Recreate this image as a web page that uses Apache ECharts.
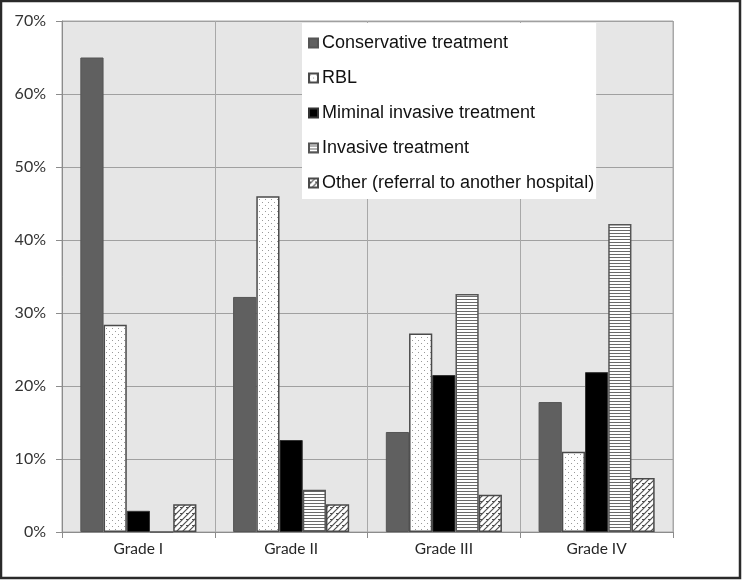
<!DOCTYPE html>
<html>
<head>
<meta charset="utf-8">
<script src="https://cdn.jsdelivr.net/npm/echarts@6/dist/echarts.min.js"></script>
<style>
html,body{margin:0;padding:0;background:#fff;}
#c{width:742px;height:581px;}
</style>
</head>
<body>
<div id="c"></div>
<script>
var categories = ['Grade I', 'Grade II', 'Grade III', 'Grade IV'];
var seriesNames = ['Conservative treatment', 'RBL', 'Miminal invasive treatment', 'Invasive treatment', 'Other (referral to another hospital)'];
var conservative = [65.0, 32.2, 13.7, 17.8];
var rbl = [28.4, 46.0, 27.2, 11.0];
var minimal = [2.9, 12.6, 21.5, 21.9];
var invasive = [0, 5.8, 32.6, 42.2];
var other = [3.8, 3.8, 5.1, 7.4];
var yTicks = [0, 10, 20, 30, 40, 50, 60, 70];

function makeCanvas(w, h, draw) {
  var c = document.createElement('canvas');
  c.width = w; c.height = h;
  var ctx = c.getContext('2d');
  draw(ctx, w, h);
  return c;
}
var dots = makeCanvas(6, 6, function (ctx, w, h) {
  ctx.fillStyle = '#ffffff'; ctx.fillRect(0, 0, w, h);
  ctx.fillStyle = '#9a9a9a';
  ctx.fillRect(1, 1, 1, 1);
  ctx.fillRect(4, 4, 1, 1);
});
var stripes = makeCanvas(4, 3, function (ctx, w, h) {
  ctx.fillStyle = '#ffffff'; ctx.fillRect(0, 0, w, h);
  ctx.fillStyle = '#6a6a6a';
  ctx.fillRect(0, 2, w, 1);
});
var hatch = makeCanvas(6, 6, function (ctx, w, h) {
  ctx.fillStyle = '#ffffff'; ctx.fillRect(0, 0, w, h);
  ctx.strokeStyle = '#505050'; ctx.lineWidth = 1.2;
  ctx.beginPath();
  ctx.moveTo(-1, 7); ctx.lineTo(7, -1);
  ctx.moveTo(-4, 4); ctx.lineTo(4, -4);
  ctx.moveTo(2, 10); ctx.lineTo(10, 2);
  ctx.stroke();
  ctx.fillStyle = '#505050';
  ctx.fillRect(0, 3, 2, 1);
});

var styles = [
  {color: '#606060', borderColor: '#555555', borderWidth: 1},
  {color: {image: dots, repeat: 'repeat'}, borderColor: '#4a4a4a', borderWidth: 1.5},
  {color: '#000000', borderColor: '#333333', borderWidth: 1},
  {color: {image: stripes, repeat: 'repeat'}, borderColor: '#555555', borderWidth: 1.5},
  {color: {image: hatch, repeat: 'repeat'}, borderColor: '#4a4a4a', borderWidth: 1.5}
];
var dataArr = [conservative, rbl, minimal, invasive, other];

var series = seriesNames.map(function (n, i) {
  return {
    name: n,
    type: 'bar',
    data: dataArr[i],
    barGap: '0%',
    barCategoryGap: '24%',
    itemStyle: styles[i],
    emphasis: {disabled: true},
    animation: false
  };
});

var chart = echarts.init(document.getElementById('c'));
chart.setOption({
  animation: false,
  backgroundColor: '#ffffff',
  graphic: [{
    type: 'rect',
    shape: {x: 1, y: 1, width: 739, height: 577},
    style: {fill: 'none', stroke: '#2a2a2a', lineWidth: 2.5},
    silent: true
  }],
  grid: {
    left: 62, right: 69, top: 21, bottom: 49,
    show: true, backgroundColor: '#e6e6e6', borderColor: '#a8a8a8', borderWidth: 1
  },
  legend: {
    data: seriesNames,
    orient: 'vertical',
    left: 302, top: 23,
    backgroundColor: '#ffffff',
    padding: [10, 2, 6, 6],
    itemWidth: 9, itemHeight: 9,
    itemGap: 15,
    icon: 'rect',
    textStyle: {fontFamily: 'Liberation Sans', fontSize: 18, color: '#111111', lineHeight: 20, padding: [0, 0, 0, -1]},
    selectedMode: false
  },
  xAxis: {
    type: 'category',
    data: categories,
    boundaryGap: true,
    axisLine: {lineStyle: {color: '#8c8c8c', width: 1}},
    axisTick: {show: true, length: 6, lineStyle: {color: '#8c8c8c'}},
    splitLine: {show: true, lineStyle: {color: '#a8a8a8', width: 1}},
    axisLabel: {fontFamily: 'Lato', fontSize: 15.5, color: '#262626', margin: 9}
  },
  yAxis: {
    type: 'value',
    min: yTicks[0], max: yTicks[yTicks.length - 1], interval: 10,
    axisLine: {show: true, lineStyle: {color: '#8c8c8c', width: 1}},
    axisTick: {show: true, length: 6, lineStyle: {color: '#8c8c8c'}},
    splitLine: {show: true, lineStyle: {color: '#a0a0a0', width: 1}},
    axisLabel: {fontFamily: 'Lato', fontSize: 16, color: '#333333', margin: 16, formatter: '{value}%'}
  },
  series: series
});
</script>
</body>
</html>
